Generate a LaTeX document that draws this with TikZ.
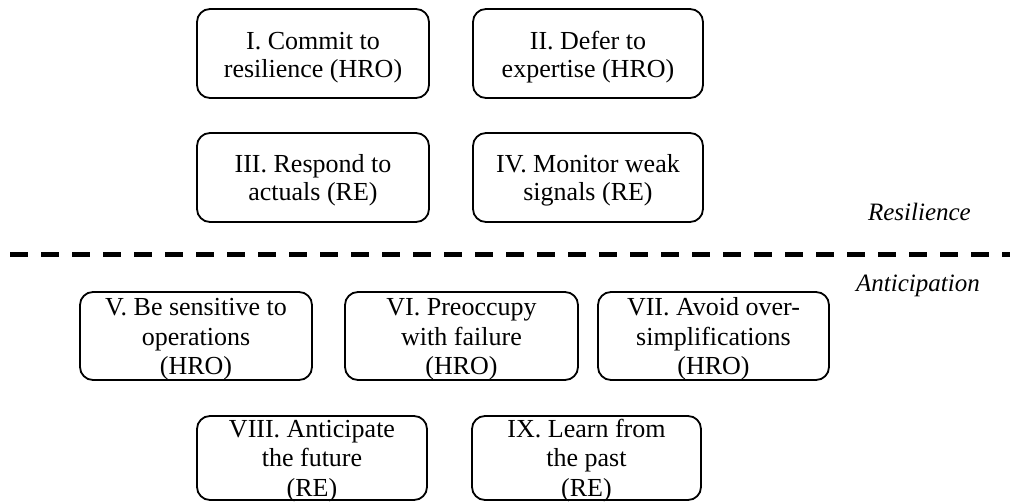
\documentclass[tikz,border=0pt]{standalone}
\usepackage{fontspec}
\setmainfont{Liberation Serif}
\begin{document}
\begin{tikzpicture}[x=1pt,y=-1pt,
  box/.style={draw, line width=1.8pt, rounded corners=13pt, inner sep=0pt},
  txt/.style={anchor=base, inner sep=0pt, font=\fontsize{26}{28}\selectfont},
  txtb/.style={anchor=base, inner sep=0pt, font=\fontsize{26}{29.5}\selectfont},
  lab/.style={anchor=base east, inner sep=0pt, font=\fontsize{25}{28}\selectfont\itshape},
  sep/.style={line width=4.5pt, dash pattern=on 18pt off 13pt}]
\useasboundingbox (0,0) rectangle (1010,502);
% top boxes
\node[box, minimum width=232pt, minimum height=89pt] (b1) at (313,53.5) {};
\node[box, minimum width=230pt, minimum height=89pt] (b2) at (588,53.5) {};
\node[box, minimum width=232pt, minimum height=89pt] (b3) at (313,177.5) {};
\node[box, minimum width=230pt, minimum height=89pt] (b4) at (588,177.5) {};
\node[txt] (t1) at (313,50) {\begin{tabular}[t]{@{}c@{}}I. Commit to\\resilience (HRO)\end{tabular}};
\node[txt] (t2) at (588,50) {\begin{tabular}[t]{@{}c@{}}II. Defer to\\expertise (HRO)\end{tabular}};
\node[txt] (t3) at (313,173) {\begin{tabular}[t]{@{}c@{}}III. Respond to\\actuals (RE)\end{tabular}};
\node[txt] (t4) at (588,173) {\begin{tabular}[t]{@{}c@{}}IV. Monitor weak\\signals (RE)\end{tabular}};
% labels and separator
\node[lab] (res) at (971,221) {Resilience};
\node[lab] (ant) at (980,292) {Anticipation};
\coordinate (dl) at (10,254.5);
\coordinate (dr) at (1010,254.5);
\draw[sep] (dl) -- (dr);
% bottom boxes
\node[box, minimum width=232pt, minimum height=88pt] (b5) at (196,336) {};
\node[box, minimum width=233pt, minimum height=88pt] (b6) at (461.5,336) {};
\node[box, minimum width=231pt, minimum height=88pt] (b7) at (713.5,336) {};
\node[box, minimum width=230pt, minimum height=84pt] (b8) at (312,458) {};
\node[box, minimum width=229pt, minimum height=84pt] (b9) at (586.5,458) {};
\node[txtb] (t5) at (196,316) {\begin{tabular}[t]{@{}c@{}}V. Be sensitive to\\operations\\(HRO)\end{tabular}};
\node[txtb] (t6) at (461.5,316) {\begin{tabular}[t]{@{}c@{}}VI. Preoccupy\\with failure\\(HRO)\end{tabular}};
\node[txtb] (t7) at (713.5,316) {\begin{tabular}[t]{@{}c@{}}VII. Avoid over-\\simplifications\\(HRO)\end{tabular}};
\node[txtb] (t8) at (312,437.5) {\begin{tabular}[t]{@{}c@{}}VIII. Anticipate\\the future\\(RE)\end{tabular}};
\node[txtb] (t9) at (586.5,437.5) {\begin{tabular}[t]{@{}c@{}}IX. Learn from\\the past\\(RE)\end{tabular}};
\end{tikzpicture}
\end{document}
